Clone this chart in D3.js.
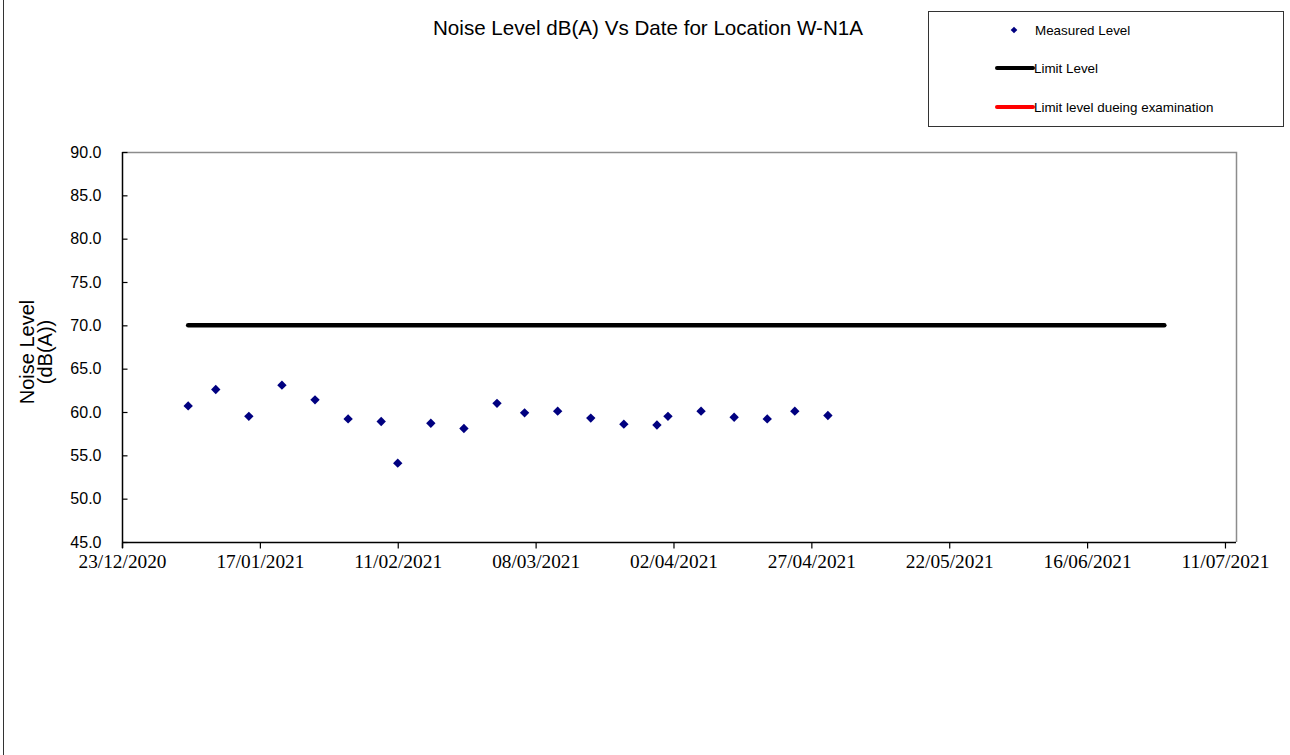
<!DOCTYPE html>
<html>
<head>
<meta charset="utf-8">
<script src="https://cdn.jsdelivr.net/npm/d3@7"></script>
<style>
  html, body { margin: 0; padding: 0; background: #ffffff; }
  svg { display: block; }
</style>
</head>
<body>
<svg id="chart" width="1290" height="755"></svg>
<script>
// Measurement dates and noise levels dB(A) at W-N1A
const measureDates = [
  "04/01/2021", "09/01/2021", "15/01/2021", "21/01/2021", "27/01/2021",
  "02/02/2021", "08/02/2021", "11/02/2021", "17/02/2021", "23/02/2021",
  "01/03/2021", "06/03/2021", "12/03/2021", "18/03/2021", "24/03/2021",
  "30/03/2021", "01/04/2021", "07/04/2021", "13/04/2021", "19/04/2021",
  "24/04/2021", "30/04/2021"
];
const measuredLevel = [
  60.7, 62.6, 59.5, 63.1, 61.4,
  59.2, 58.9, 54.1, 58.7, 58.1,
  61.0, 59.9, 60.1, 59.3, 58.6,
  58.5, 59.5, 60.1, 59.4, 59.2,
  60.1, 59.6
];
// Limit level line: start / end dates and value
const limitDates = ["04/01/2021", "30/06/2021"];
const limitLevel = [70, 70];

// Axis settings
const xDomainDates = ["23/12/2020", "13/07/2021"];
const xTickDates = [
  "23/12/2020", "17/01/2021", "11/02/2021", "08/03/2021", "02/04/2021",
  "27/04/2021", "22/05/2021", "16/06/2021", "11/07/2021"
];
const yTicks = [45, 50, 55, 60, 65, 70, 75, 80, 85, 90];

const parse = d3.utcParse("%d/%m/%Y");
const fmt = d3.utcFormat("%d/%m/%Y");

const svg = d3.select("#chart");

// outer chart edge
svg.append("line")
  .attr("x1", 3.5).attr("x2", 3.5).attr("y1", 0).attr("y2", 755)
  .attr("stroke", "#333").attr("stroke-width", 1);

const plot = { left: 122, right: 1236, top: 152, bottom: 542 };

const x = d3.scaleUtc()
  .domain(xDomainDates.map(parse))
  .range([plot.left, plot.right]);
const y = d3.scaleLinear()
  .domain([45, 90])
  .range([plot.bottom, plot.top]);

// plot frame (top / right in grey)
svg.append("path")
  .attr("d", `M${plot.left},${plot.top + 0.5}H${plot.right + 0.5}V${plot.bottom}`)
  .attr("fill", "none").attr("stroke", "#8c8c8c").attr("stroke-width", 1.5);

// Y axis
const yAxis = svg.append("g")
  .attr("transform", `translate(${plot.left + 0.5},0)`)
  .call(d3.axisLeft(y).tickValues(yTicks).tickSize(-5).tickPadding(21)
    .tickFormat(d3.format(".1f")));
yAxis.select(".domain").attr("stroke", "#000").attr("stroke-width", 1.5)
  .attr("d", `M0,${plot.top}V${plot.bottom + 6}`);
yAxis.selectAll(".tick line").attr("stroke", "#000").attr("stroke-width", 1.2);
yAxis.selectAll(".tick text")
  .attr("font-family", "Liberation Sans, Arial, sans-serif")
  .attr("font-size", 16).attr("fill", "#000");

// X axis
const xAxis = svg.append("g")
  .attr("transform", `translate(0,${plot.bottom + 0.5})`)
  .call(d3.axisBottom(x).tickValues(xTickDates.map(parse)).tickSize(6).tickPadding(6)
    .tickFormat(fmt));
xAxis.select(".domain").attr("stroke", "#000").attr("stroke-width", 1.5)
  .attr("d", `M${plot.left},0H${plot.right}`);
xAxis.selectAll(".tick line").attr("stroke", "#000").attr("stroke-width", 1.2);
xAxis.selectAll(".tick text")
  .attr("font-family", "Liberation Serif, Times New Roman, serif")
  .attr("font-size", 19).attr("fill", "#000")
  .attr("textLength", 88).attr("lengthAdjust", "spacingAndGlyphs");

// Limit level line
const limitData = limitDates.map((d, i) => ({ date: parse(d), value: limitLevel[i] }));
svg.append("path")
  .datum(limitData)
  .attr("fill", "none").attr("stroke", "#000").attr("stroke-width", 4.5)
  .attr("stroke-linecap", "round")
  .attr("d", d3.line().x(d => x(d.date)).y(d => y(d.value)));

// Measured points as diamonds
const diamond = d3.symbol().type(d3.symbolSquare).size(44);
const pts = measureDates.map((d, i) => ({ date: parse(d), value: measuredLevel[i] }));
svg.append("g").selectAll("path")
  .data(pts).join("path")
  .attr("d", diamond)
  .attr("transform", d => `translate(${x(d.date)},${y(d.value)}) rotate(45)`)
  .attr("fill", "#000080");

// Title
svg.append("text")
  .attr("x", 648).attr("y", 35)
  .attr("text-anchor", "middle")
  .attr("font-family", "Liberation Sans, Arial, sans-serif")
  .attr("font-size", 20.6).attr("fill", "#000")
  .text("Noise Level dB(A) Vs Date for Location W-N1A");

// Y axis title
const yTitle = svg.append("text")
  .attr("transform", "translate(0,352) rotate(-90)")
  .attr("text-anchor", "middle")
  .attr("font-family", "Liberation Sans, Arial, sans-serif")
  .attr("font-size", 20).attr("fill", "#000");
yTitle.append("tspan").attr("x", 0).attr("y", 34).text("Noise Level");
yTitle.append("tspan").attr("x", 0).attr("y", 52).text("(dB(A))");

// Legend
const legend = svg.append("g");
legend.append("rect")
  .attr("x", 928.5).attr("y", 11.5).attr("width", 355).attr("height", 115)
  .attr("fill", "#fff").attr("stroke", "#333").attr("stroke-width", 1);
const legendFont = { family: "Liberation Sans, Arial, sans-serif", size: 13.4 };
legend.append("path")
  .attr("d", d3.symbol().type(d3.symbolSquare).size(22))
  .attr("transform", "translate(1014,30) rotate(45)")
  .attr("fill", "#000080");
legend.append("line")
  .attr("x1", 997).attr("x2", 1033).attr("y1", 68).attr("y2", 68)
  .attr("stroke", "#000").attr("stroke-width", 4).attr("stroke-linecap", "round");
legend.append("line")
  .attr("x1", 997).attr("x2", 1033).attr("y1", 107).attr("y2", 107)
  .attr("stroke", "#ff0000").attr("stroke-width", 4).attr("stroke-linecap", "round");
const legendItems = [
  { label: "Measured Level", x: 1035, y: 35 },
  { label: "Limit Level", x: 1034, y: 73 },
  { label: "Limit level dueing examination", x: 1034, y: 112 }
];
legend.selectAll("text.item").data(legendItems).join("text")
  .attr("class", "item")
  .attr("x", d => d.x).attr("y", d => d.y)
  .attr("font-family", legendFont.family).attr("font-size", legendFont.size)
  .attr("fill", "#000")
  .text(d => d.label);
</script>
</body>
</html>
